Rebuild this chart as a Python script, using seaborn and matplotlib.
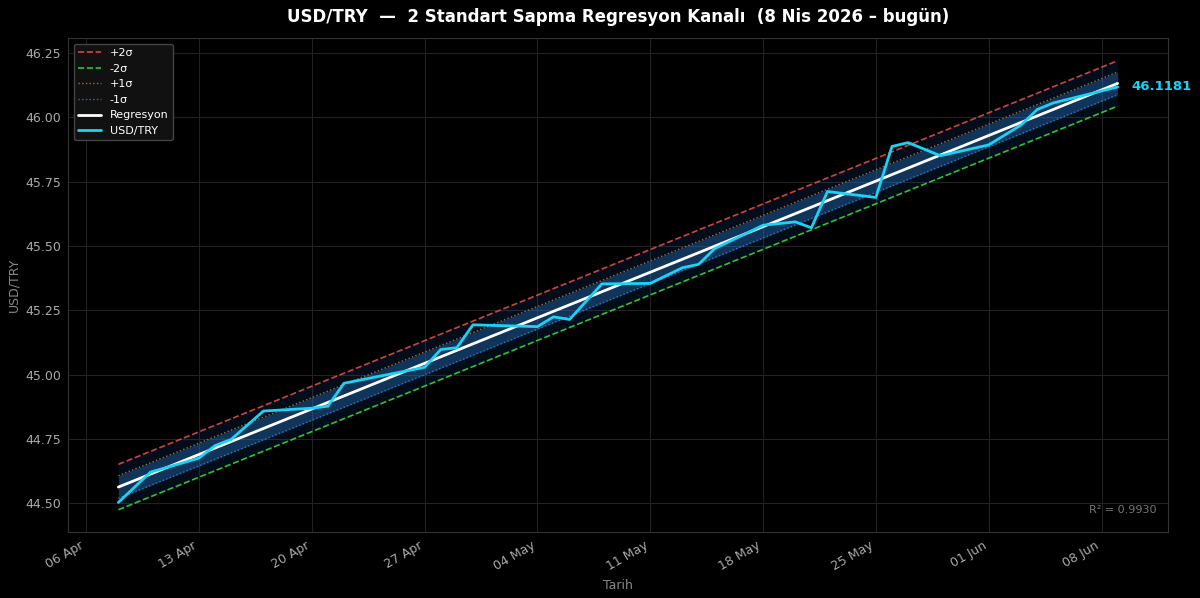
import numpy as np
import pandas as pd
import matplotlib
matplotlib.use("Agg")
import matplotlib.pyplot as plt
import matplotlib.dates as mdates
import seaborn as sns

# Data
dates = ["2026-04-08", "2026-04-10", "2026-04-13", "2026-04-14", "2026-04-15",
         "2026-04-17", "2026-04-20", "2026-04-21", "2026-04-22", "2026-04-27",
         "2026-04-28", "2026-04-29", "2026-04-30", "2026-05-04", "2026-05-05",
         "2026-05-06", "2026-05-08", "2026-05-11", "2026-05-13", "2026-05-14",
         "2026-05-15", "2026-05-18", "2026-05-20", "2026-05-21", "2026-05-22",
         "2026-05-25", "2026-05-26", "2026-05-27", "2026-05-29", "2026-06-01",
         "2026-06-03", "2026-06-04", "2026-06-05", "2026-06-09"]
rates = [44.504, 44.622, 44.676, 44.725, 44.749,
         44.859, 44.870, 44.878, 44.967, 45.029,
         45.098, 45.105, 45.194, 45.187, 45.225,
         45.215, 45.353, 45.355, 45.416, 45.429,
         45.490, 45.581, 45.594, 45.571, 45.712,
         45.689, 45.887, 45.902, 45.851, 45.893,
         45.970, 46.030, 46.056, 46.1181]
r2_label = "R² = 0.9930"

df = pd.DataFrame({"Tarih": pd.to_datetime(dates), "USD/TRY": rates})

# Regression channel
t = (df["Tarih"] - df["Tarih"].iloc[0]).dt.days.values.astype(float)
slope, intercept = np.polyfit(t, df["USD/TRY"], 1)
reg = slope * t + intercept
sigma = np.std(df["USD/TRY"] - reg)
df["reg"] = reg

sns.set_style("dark")
plt.rcParams.update({
    "figure.facecolor": "black",
    "axes.facecolor": "black",
    "axes.edgecolor": "#333333",
    "grid.color": "#222222",
    "text.color": "white",
    "xtick.color": "#aaaaaa",
    "ytick.color": "#aaaaaa",
    "axes.labelcolor": "#888888",
})
plt.rcParams["font.family"] = ["DejaVu Sans"]

fig, ax = plt.subplots(figsize=(12, 5.98), dpi=100)

x = df["Tarih"]
ax.fill_between(x, reg - 2 * sigma, reg + 2 * sigma, color="#1e6fd0", alpha=0.12, lw=0)
ax.fill_between(x, reg - sigma, reg + sigma, color="#2a7fd4", alpha=0.35, lw=0)

ax.plot(x, reg + 2 * sigma, color="#f05050", ls="--", lw=1.2, alpha=0.85, label="+2σ")
ax.plot(x, reg - 2 * sigma, color="#33e633", ls="--", lw=1.2, alpha=0.85, label="-2σ")
ax.plot(x, reg + sigma, color="#c8864a", ls=":", lw=1, alpha=0.8, label="+1σ")
ax.plot(x, reg - sigma, color="#2f8fe0", ls=":", lw=1, alpha=0.8, label="-1σ")
sns.lineplot(data=df, x="Tarih", y="reg", ax=ax, color="white", lw=2, label="Regresyon")
sns.lineplot(data=df, x="Tarih", y="USD/TRY", ax=ax, color="#1ad3f5", lw=2, label="USD/TRY")

last = df.iloc[-1]
ax.annotate(f"{last['USD/TRY']:.4f}", xy=(last["Tarih"], last["USD/TRY"]),
            xytext=(10, 0), textcoords="offset points", va="center",
            color="#1ad3f5", fontsize=9.5, fontweight="bold", annotation_clip=False)

ax.text(0.99, 0.035, r2_label, transform=ax.transAxes, ha="right", va="bottom",
        color="#777777", fontsize=8)

ax.grid(True, color="#222222", lw=0.8)
ax.xaxis.set_major_locator(mdates.WeekdayLocator(byweekday=mdates.MO))
ax.xaxis.set_major_formatter(mdates.DateFormatter("%d %b"))
for lab in ax.get_xticklabels():
    lab.set_rotation(30)
    lab.set_ha("right")
ax.tick_params(axis="both", colors="#aaaaaa", labelsize=9, length=3, pad=2)
ax.set_xlabel("Tarih", color="#888888", fontsize=9, labelpad=4)
ax.set_ylabel("USD/TRY", color="#888888", fontsize=9)
ax.set_title("USD/TRY  —  2 Standart Sapma Regresyon Kanalı  (8 Nis 2026 – bugün)",
             color="white", fontsize=12, fontweight="bold", pad=12)

leg = ax.legend(loc="upper left", facecolor="#111111", edgecolor="#444444",
                fontsize=8, framealpha=1)
for txt in leg.get_texts():
    txt.set_color("white")

fig.subplots_adjust(left=0.057, right=0.973, top=0.936, bottom=0.11)
fig.savefig("out.png", dpi=100, facecolor="black")
